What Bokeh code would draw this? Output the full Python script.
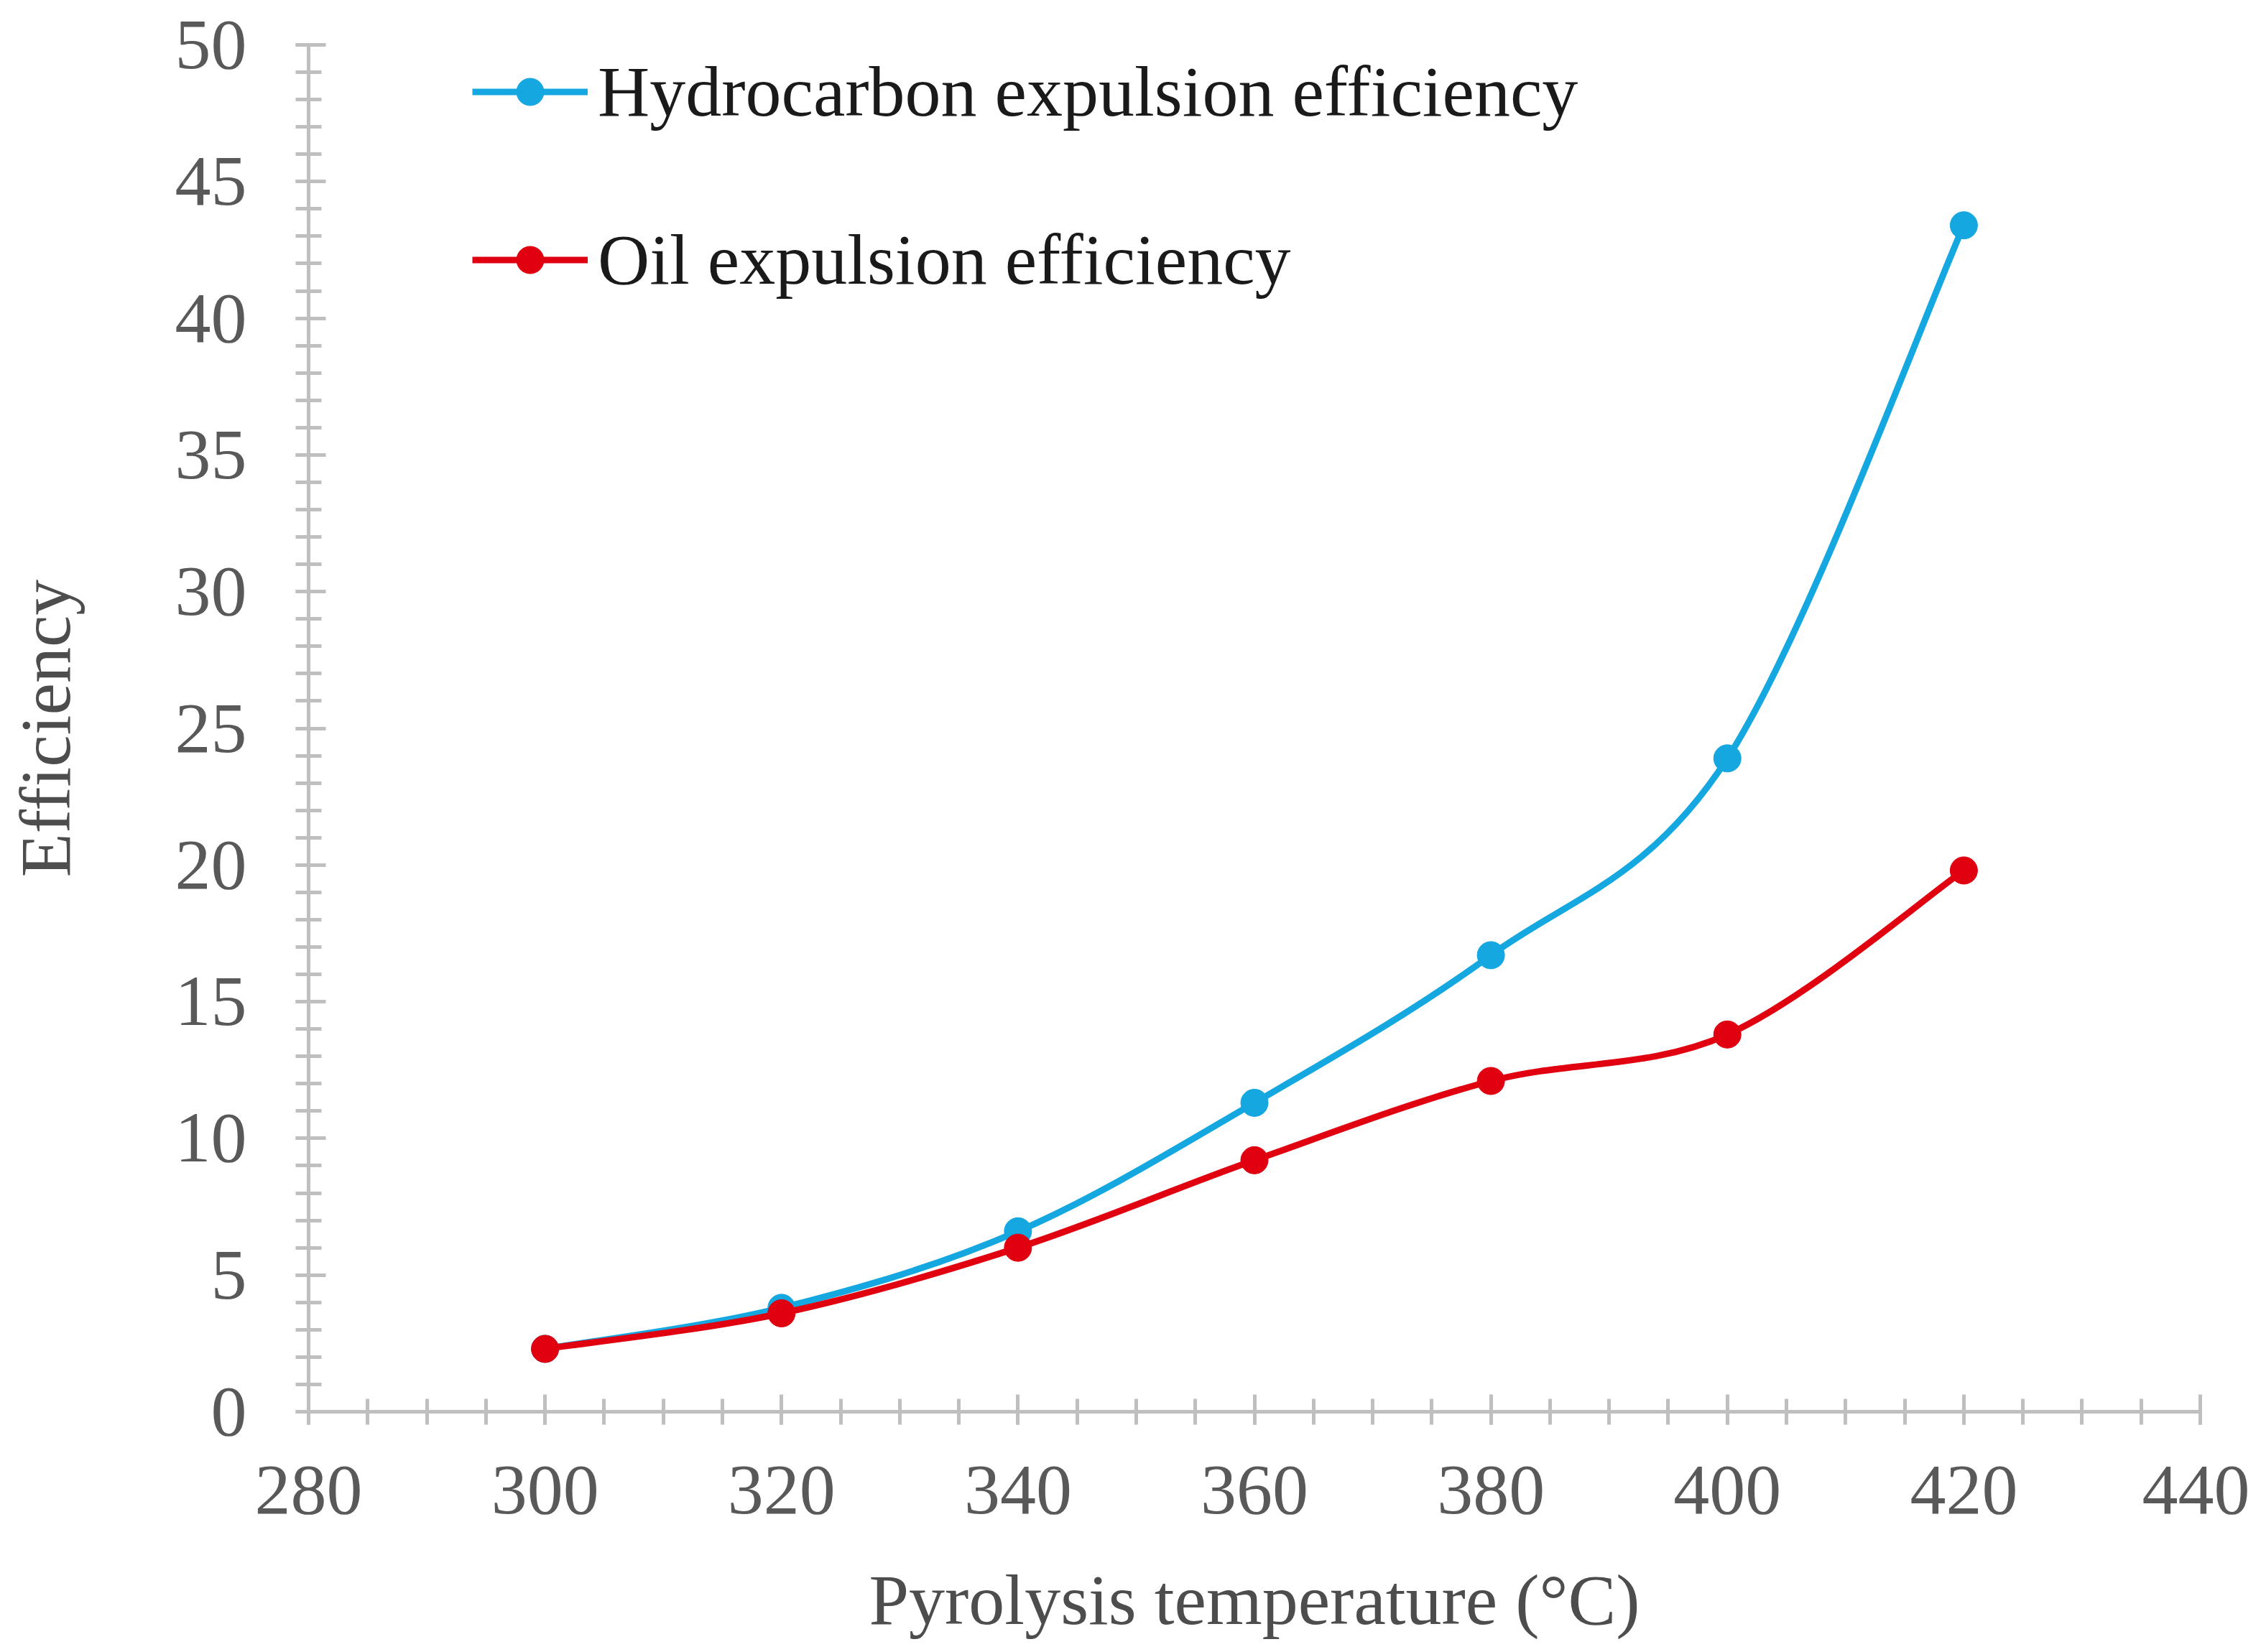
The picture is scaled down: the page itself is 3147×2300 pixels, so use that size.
from bokeh.plotting import figure
from bokeh.models import Range1d, SingleIntervalTicker, Legend, LegendItem
from bokeh.embed import file_html
from bokeh.resources import INLINE

# data
temperature = [300, 320, 340, 360, 380, 400, 420]
hc_eff = [2.3, 3.8, 6.6, 11.3, 16.7, 23.9, 43.4]
oil_eff = [2.3, 3.6, 6.0, 9.2, 12.1, 13.8, 19.8]

blue = "#14a7e0"
red = "#e0000f"
font = "Liberation Serif"

p = figure(width=3131, height=2284, output_backend="svg", toolbar_location=None,
           x_range=Range1d(280, 440), y_range=Range1d(0, 50),
           min_border_left=429, min_border_top=62, min_border_right=69, min_border_bottom=319)
p.frame_width = 2633
p.frame_height = 1903
p.outline_line_color = None
p.xgrid.visible = False
p.ygrid.visible = False
p.background_fill_color = "white"


def smooth(xs, ys):
    # excel-like smoothed line: cubic bezier segments through the points
    n = len(xs)
    seg = dict(x0=[], y0=[], x1=[], y1=[], cx0=[], cy0=[], cx1=[], cy1=[])
    for i in range(n - 1):
        a = max(i - 1, 0)
        d = min(i + 2, n - 1)
        seg["x0"].append(xs[i]); seg["y0"].append(ys[i])
        seg["x1"].append(xs[i + 1]); seg["y1"].append(ys[i + 1])
        seg["cx0"].append(xs[i] + (xs[i + 1] - xs[a]) / 6)
        seg["cy0"].append(ys[i] + (ys[i + 1] - ys[a]) / 6)
        seg["cx1"].append(xs[i + 1] - (xs[d] - xs[i]) / 6)
        seg["cy1"].append(ys[i + 1] - (ys[d] - ys[i]) / 6)
    return seg


items = []
for name, ys, col in [("Hydrocarbon expulsion efficiency", hc_eff, blue),
                      ("Oil expulsion efficiency", oil_eff, red)]:
    curve = p.bezier(source=smooth(temperature, ys), x0="x0", y0="y0", x1="x1", y1="y1",
                     cx0="cx0", cy0="cy0", cx1="cx1", cy1="cy1", line_color=col, line_width=9)
    dots = p.scatter(temperature, ys, size=38, fill_color=col, line_color=col)
    items.append(LegendItem(label=name, renderers=[curve, dots]))

legend = Legend(items=items, location=(228, 1546), padding=0, margin=0, spacing=119,
                glyph_width=161, glyph_height=95, label_standoff=14,
                label_text_font=font, label_text_font_size="100px",
                label_text_color="#1a1a1a", border_line_color=None,
                background_fill_alpha=0)
p.add_layout(legend, "center")

for ax in (p.xaxis[0], p.yaxis[0]):
    ax.axis_line_color = "#bfbfbf"
    ax.axis_line_width = 5
    ax.major_tick_line_color = "#bfbfbf"
    ax.major_tick_line_width = 5
    ax.minor_tick_line_color = "#bfbfbf"
    ax.minor_tick_line_width = 5
    ax.major_tick_out = 18
    ax.major_tick_in = 24
    ax.minor_tick_out = 18
    ax.minor_tick_in = 18
    ax.major_label_text_font = font
    ax.major_label_text_font_size = "100px"
    ax.major_label_text_color = "#595959"
    ax.axis_label_text_font = font
    ax.axis_label_text_font_size = "100px"
    ax.axis_label_text_font_style = "normal"
    ax.axis_label_text_color = "#4d4d4d"

p.xaxis.ticker = SingleIntervalTicker(interval=20, num_minor_ticks=4)
p.yaxis.ticker = SingleIntervalTicker(interval=5, num_minor_ticks=5)
p.xaxis.axis_label = "Pyrolysis temperature (°C)"
p.yaxis.axis_label = "Efficiency"
p.xaxis.major_label_standoff = 58
p.xaxis.axis_label_standoff = 62
p.yaxis.major_label_standoff = 68
p.yaxis.axis_label_standoff = 122

open("out.html", "w").write(file_html(p, INLINE))
